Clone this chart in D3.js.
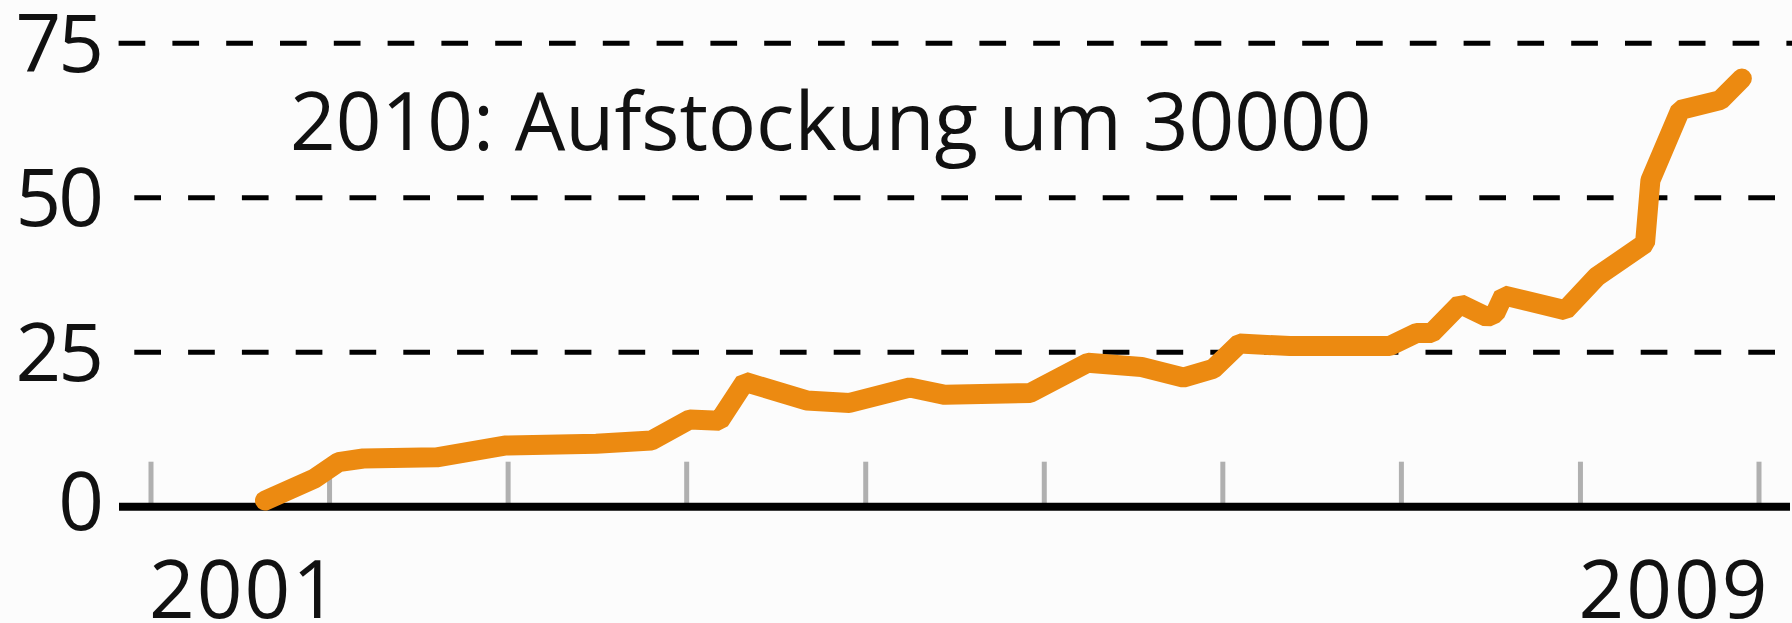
<!DOCTYPE html>
<html>
<head>
<meta charset="utf-8">
<script src="https://cdn.jsdelivr.net/npm/d3@7"></script>
<style>
  body { margin: 0; background: #fcfcfc; }
  svg { display: block; }
  text { font-family: "Open Sans", sans-serif; fill: #111; }
</style>
</head>
<body>
<div id="chart"></div>
<script>

// data (Bundeswehr-Truppen Afghanistan, Tausend)
var dates = ["2001-08-22","2001-12-02","2002-01-19","2002-03-11","2002-08-08","2002-12-25",
             "2003-06-30","2003-10-21","2004-01-07","2004-03-08","2004-04-29","2004-09-02",
             "2004-11-29","2005-04-01","2005-06-12","2005-12-03","2006-03-31","2006-07-19",
             "2006-10-12","2006-12-12","2007-02-04","2007-05-18","2007-12-08","2008-02-01",
             "2008-03-03","2008-04-30","2008-06-24","2008-07-11","2008-07-28","2008-12-01",
             "2009-02-03","2009-05-13","2009-05-24","2009-07-24","2009-10-14","2009-11-27"]
var values = [1.0, 4.6, 7.2, 7.8, 8.0, 9.9,
              10.2, 10.7, 14.1, 13.9, 20.2, 17.2,
              16.8, 19.3, 18.1, 18.4, 23.3, 22.6,
              20.9, 22.3, 26.4, 26.0, 26.0, 28.1,
              28.1, 32.8, 30.7, 31.3, 34.2, 31.8,
              37.2, 42.6, 52.8, 64.2, 65.8, 69.3]

var yTicks = [0, 25, 50, 75]
var xLabelYears = [2001, 2009]
var note = "2010: Aufstockung um 30000"

var width = 1792, height = 623
var parse = d3.timeParse("%Y-%m-%d")

var svg = d3.select("#chart").append("svg")
    .attr("width", width)
    .attr("height", height)

var x_scale = d3.scaleTime()
    .domain([new Date(2001, 0, 1), new Date(2010, 0, 1)])
    .range([151, 1759])

var y_scale = d3.scaleLinear()
    .domain([0, 75])
    .range([506.7, 43.3])

// dashed grid lines
svg.append("g")
  .selectAll("line")
  .data(yTicks.filter(d => d > 0))
  .enter().append("line")
    .attr("x1", d => d == 75 ? 118.6 : 134.3)
    .attr("x2", width)
    .attr("y1", d => y_scale(d))
    .attr("y2", d => y_scale(d))
    .attr("stroke", "#000")
    .attr("stroke-width", 5)
    .attr("stroke-dasharray", "26.7,27.1")

// year ticks (grey)
var years = d3.timeYear.range(new Date(2001, 0, 1), new Date(2010, 0, 2))
svg.append("g")
  .selectAll("line")
  .data(years)
  .enter().append("line")
    .attr("x1", d => x_scale(d))
    .attr("x2", d => x_scale(d))
    .attr("y1", y_scale(0) - 45)
    .attr("y2", y_scale(0))
    .attr("stroke", "#b0b0b0")
    .attr("stroke-width", 5)

// zero line
svg.append("line")
    .attr("x1", 119)
    .attr("x2", 1790)
    .attr("y1", y_scale(0))
    .attr("y2", y_scale(0))
    .attr("stroke", "#000")
    .attr("stroke-width", 8)

// y labels
svg.append("g")
  .selectAll("text")
  .data(yTicks)
  .enter().append("text")
    .attr("x", 101)
    .attr("y", d => y_scale(d) + (d == 0 ? 23.5 : 28.5))
    .attr("text-anchor", "end")
    .style("font-size", "80px")
    .style("letter-spacing", "-3px")
    .text(d => d)

// x labels
svg.append("g")
  .selectAll("text")
  .data(xLabelYears)
  .enter().append("text")
    .attr("x", d => x_scale(new Date(d, 0, 1)) - 2)
    .attr("y", 617.5)
    .style("font-size", "80px")
    .style("letter-spacing", "2px")
    .text(d => d)

// annotation
svg.append("text")
    .attr("x", 290)
    .attr("y", 150)
    .style("font-size", "80px")
    .text(note)

// the series
var line = d3.line()
    .x((d, i) => x_scale(parse(dates[i])))
    .y(d => y_scale(d))

svg.append("path")
    .datum(values)
    .attr("d", line)
    .attr("fill", "none")
    .attr("stroke", "#ec8a11")
    .attr("stroke-width", 20)
    .attr("stroke-linecap", "round")
    .attr("stroke-linejoin", "bevel")

</script>
</body>
</html>
